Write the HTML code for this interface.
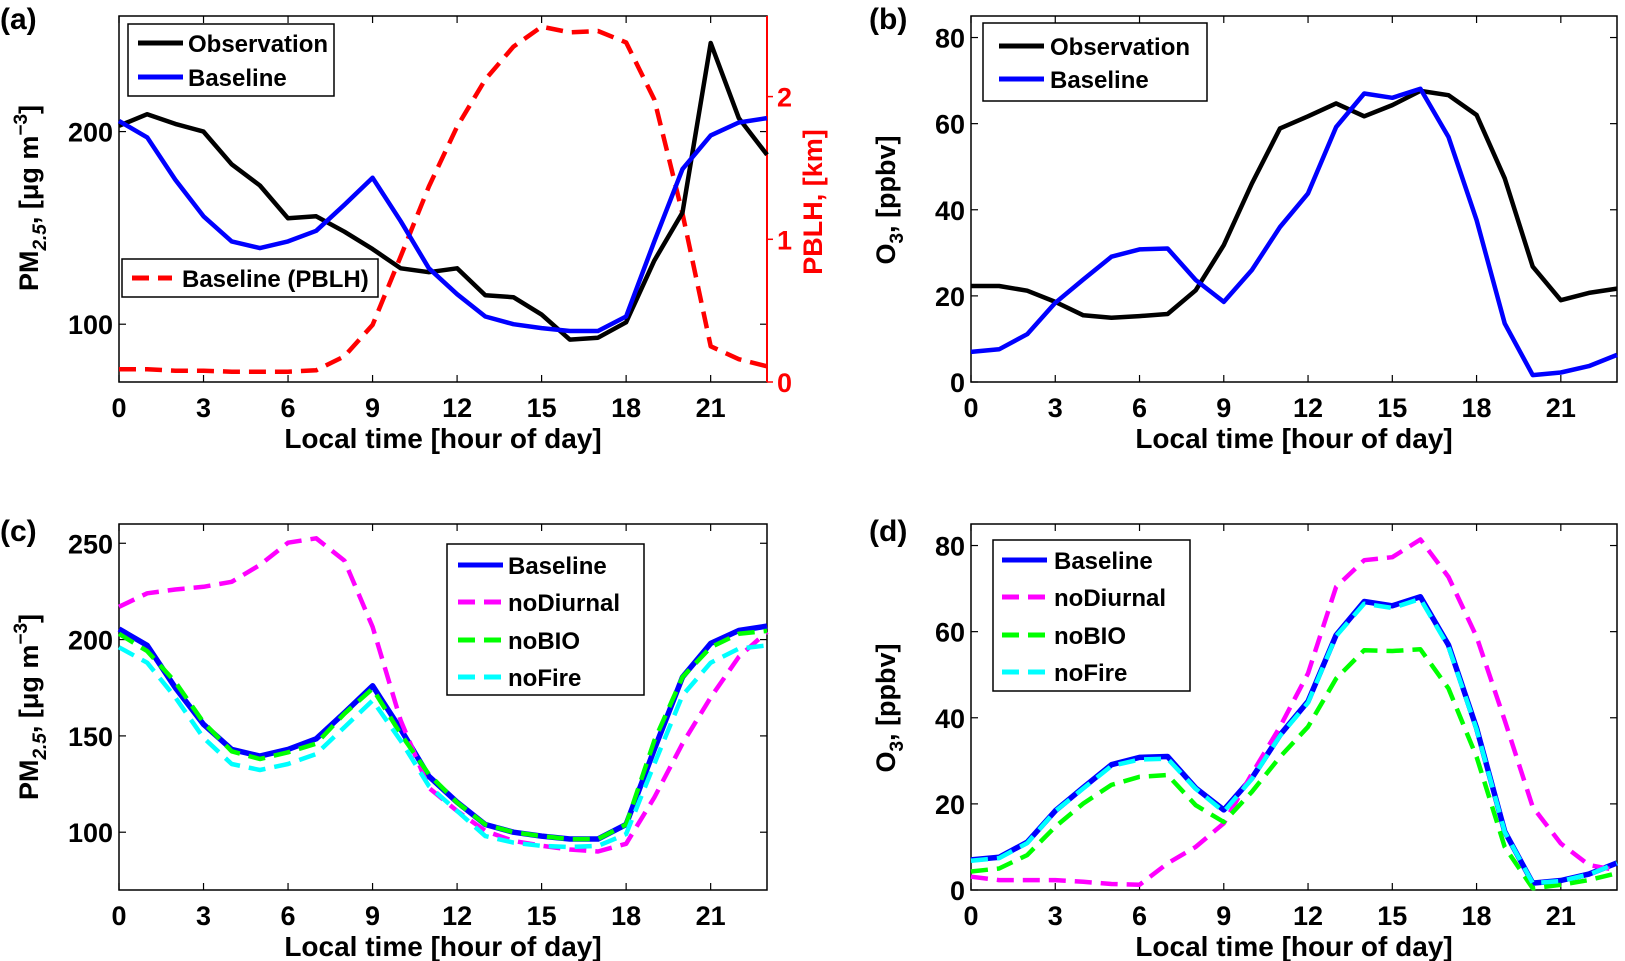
<!DOCTYPE html>
<html><head><meta charset="utf-8"><style>
html,body{margin:0;padding:0;background:#fff;}
svg{display:block;font-family:"Liberation Sans",Arial,sans-serif;font-weight:bold;}
</style></head><body>
<svg id="fig" width="1625" height="961" viewBox="0 0 1625 961" xmlns="http://www.w3.org/2000/svg"></svg>
<script>
const hours=[0,1,2,3,4,5,6,7,8,9,10,11,12,13,14,15,16,17,18,19,20,21,22,23];
const xTicks=[0,3,6,9,12,15,18,21];
const pmTicksA=[100,200];
const pmTicksC=[100,150,200,250];
const o3Ticks=[0,20,40,60,80];
const pblhTicks=[0,1,2];
const obsPM=[203,209,204,200,183,172,155,156,148,139,129,127,129,115,114,105,92,93,101,133,158,246,207,188];
const basePM=[205.5,197,175,156,143,139.5,143,148.5,162,176,153.5,129,115.6,104,100,98,96.5,96.5,104,143,180.5,198,204.7,207];
const pblh=[0.089,0.089,0.079,0.079,0.072,0.072,0.072,0.082,0.18,0.40,0.88,1.37,1.79,2.12,2.35,2.49,2.45,2.46,2.38,1.98,1.18,0.25,0.16,0.11];
const obsO3=[22.3,22.3,21.2,18.6,15.5,14.9,15.3,15.8,21.3,31.8,46.1,58.9,61.7,64.7,61.7,64.3,67.6,66.6,62,47.3,26.8,19,20.7,21.7];
const baseO3=[7.0,7.6,11.1,18.4,23.8,29.1,30.8,31.0,23.7,18.6,26,36,43.8,59.2,67,66,68.1,56.9,37.6,13.6,1.6,2.2,3.7,6.3];
const noDiurnalPM=[217,224,226,227.4,230,238.7,250.3,252.6,241,206.6,158,123,111,100.7,95.5,93,91,90,94,118,146,170,191,204];
const noBioPM=[203,194,178,157,142,138,141.5,146,161.5,174.5,151,130,115.4,104,100,98,96.4,96.5,104,147.5,180.5,196,203,204.5];
const noFirePM=[196,188,170,149,135.4,132.3,135.4,140.6,154.5,168.4,147.5,124,111,98,94.6,92.9,92.3,92.9,99,135.4,171,188,195.3,197];
const noDiurnalO3=[3.1,2.3,2.3,2.3,1.9,1.4,1.2,6.2,10,15.5,27,37.9,50.3,70.4,76.6,77.3,81.4,72.7,58.8,39.4,19.3,10.8,5.8,4.6];
const noBioO3=[4.3,5.0,8.1,14.7,20.1,24.4,26.3,26.7,19.7,15.8,22.8,30.9,37.9,49.1,55.7,55.5,55.9,46.8,30.9,10,0.4,1.2,2.3,3.9];
const noFireO3=[6.8,7.4,10.9,18.3,23.6,28.8,30.3,30.5,23.5,18.2,25.8,35.8,43.5,59,66.5,65.5,67.6,56.5,37.3,13.5,1.6,2.1,3.6,6.2];

const NS="http://www.w3.org/2000/svg";
const svg=document.getElementById('fig');
function mk(tag,attrs,parent,text){const e=document.createElementNS(NS,tag);for(const k in attrs)e.setAttribute(k,attrs[k]);if(text!==undefined)e.textContent=text;(parent||svg).appendChild(e);return e;}

function panel(p){
  const g=mk('g',{});
  
  
  const sx=v=>p.L+(v-0)/(23-0)*(p.R-p.L);
  const sy=v=>p.B-(v-p.ymin)/(p.ymax-p.ymin)*(p.B-p.T);
  const fr=mk('rect',{x:p.L,y:p.T,width:p.R-p.L,height:p.B-p.T,fill:'none',stroke:'#000','stroke-width':1.5},g);
  
  
  xTicks.forEach(t=>{
    const x=sx(t);
    mk('line',{x1:x,y1:p.B,x2:x,y2:p.B-7,stroke:'#000','stroke-width':1.2},g);
    mk('line',{x1:x,y1:p.T,x2:x,y2:p.T+7,stroke:'#000','stroke-width':1.2},g);
    const tl=mk('text',{x:x,y:p.B+35,'font-size':27,'text-anchor':'middle'},g,String(t));
    
    
  });
  p.yt.forEach(t=>{
    const y=sy(t);
    mk('line',{x1:p.L,y1:y,x2:p.L+7,y2:y,stroke:'#000','stroke-width':1.2},g);
    mk('line',{x1:p.R,y1:y,x2:p.R-7,y2:y,stroke:'#000','stroke-width':1.2},g);
    const tl=mk('text',{x:p.L-6,y:y+10,'font-size':27,'text-anchor':'end'},g,String(t));
    
    
  });
  const xl=mk('text',{x:(p.L+p.R)/2,y:p.B+66,'font-size':28,'text-anchor':'middle'},g,'Local time [hour of day]');
  
  
  const yl=mk('text',{x:0,y:0,'font-size':27,'text-anchor':'middle',transform:`translate(${p.ylx},${p.yly}) rotate(-90)`},g);
  
  
  if(p.pm){
    mk('tspan',{},yl,'PM');
    mk('tspan',{'font-size':19,dy:8,'font-style':'italic'},yl,'2.5');
    mk('tspan',{dy:-8},yl,',  [\u03BCg m');
    mk('tspan',{'font-size':19,dy:-11},yl,'\u22123');
    mk('tspan',{dy:11},yl,']');
  } else {
    mk('tspan',{},yl,'O');
    mk('tspan',{'font-size':19,dy:8},yl,'3');
    mk('tspan',{dy:-8},yl,',  [ppbv]');
  }
  const lab=mk('text',{x:p.labx,y:p.laby,'font-size':30},g,'('+p.id+')');
  
  
  return {g,sx,sy};
}
function series(ax,vals,sy,color,dash,name,width){
  const pts=hours.map((h,i)=>ax.sx(h).toFixed(1)+','+sy(vals[i]).toFixed(1)).join(' ');
  const a={points:pts,fill:'none',stroke:color,'stroke-width':width||4.5,'stroke-linejoin':'round'};
  if(dash)a['stroke-dasharray']='17,9';
  const l=mk('polyline',a,ax.g);
  
  
}
function legend(ax,box,entries){
  const lg=mk('g',{},ax.g);
  
  
  mk('rect',{x:box[0],y:box[1],width:box[2]-box[0],height:box[3]-box[1],fill:'#fff',stroke:'#000','stroke-width':1.5},lg);
  entries.forEach(e=>{
    const it=mk('g',{},lg);
    
    
    const a={x1:e.x1,y1:e.y,x2:e.x2,y2:e.y,stroke:e.c,'stroke-width':e.w||5};
    if(e.d)a['stroke-dasharray']='17,9';
    mk('line',a,it);
    mk('text',{x:e.tx,y:e.y+9,'font-size':24},it,e.t);
  });
}

// (a)
const A=panel({id:'a',L:119,R:767,T:16,B:382,ymin:70,ymax:260,yt:pmTicksA,pm:true,ylx:38,yly:198,labx:0,laby:29});
const syPB=v=>382-v*142.7;
pblhTicks.forEach(t=>{
  const y=syPB(t);
  mk('line',{x1:767,y1:y,x2:773,y2:y,stroke:'#f00','stroke-width':1.5},A.g);
  const tl=mk('text',{x:777,y:y+10,'font-size':27,fill:'#f00'},A.g,String(t));
  
  
});
mk('line',{x1:767,y1:16,x2:767,y2:382,stroke:'#f00','stroke-width':2},A.g);
const ry=mk('text',{x:0,y:0,'font-size':27,fill:'#f00','text-anchor':'middle',transform:'translate(822,202) rotate(-90)'},A.g,'PBLH, [km]');


series(A,pblh,syPB,'#f00',true,'pblh-line');
series(A,obsPM,A.sy,'#000',false,'observation-line');
series(A,basePM,A.sy,'#00f',false,'baseline-line');
legend(A,[128,24,334,96],[{x1:138,x2:183,y:43,c:'#000',t:'Observation',tx:188},{x1:138,x2:183,y:77,c:'#00f',t:'Baseline',tx:188}]);
legend(A,[122,259,378,297],[{x1:132,x2:172,y:278,c:'#f00',d:true,t:'Baseline (PBLH)',tx:182}]);

// (b)
const B=panel({id:'b',L:971,R:1617,T:16,B:382,ymin:0,ymax:85,yt:o3Ticks,pm:false,ylx:895,yly:200,labx:869,laby:29});
series(B,obsO3,B.sy,'#000',false,'observation-line');
series(B,baseO3,B.sy,'#00f',false,'baseline-line');
legend(B,[983,23,1207,101],[{x1:999,x2:1044,y:46,c:'#000',t:'Observation',tx:1050},{x1:999,x2:1044,y:79,c:'#00f',t:'Baseline',tx:1050}]);

// (c)
const C=panel({id:'c',L:119,R:767,T:524,B:890,ymin:70,ymax:260,yt:pmTicksC,pm:true,ylx:38,yly:707,labx:0,laby:541});
series(C,basePM,C.sy,'#00f',false,'baseline-line',5.5);
series(C,noDiurnalPM,C.sy,'#f0f',true,'nodiurnal-line');
series(C,noBioPM,C.sy,'#0f0',true,'nobio-line');
series(C,noFirePM,C.sy,'#0ff',true,'nofire-line');
legend(C,[447,544,644,695],[
 {x1:458,x2:503,y:565,c:'#00f',t:'Baseline',tx:508},
 {x1:458,x2:503,y:602,c:'#f0f',d:true,t:'noDiurnal',tx:508},
 {x1:458,x2:503,y:640,c:'#0f0',d:true,t:'noBIO',tx:508},
 {x1:458,x2:503,y:677,c:'#0ff',d:true,t:'noFire',tx:508}]);

// (d)
const D=panel({id:'d',L:971,R:1617,T:524,B:890,ymin:0,ymax:85,yt:o3Ticks,pm:false,ylx:895,yly:708,labx:869,laby:541});
series(D,baseO3,D.sy,'#00f',false,'baseline-line',5.5);
series(D,noDiurnalO3,D.sy,'#f0f',true,'nodiurnal-line');
series(D,noBioO3,D.sy,'#0f0',true,'nobio-line');
series(D,noFireO3,D.sy,'#0ff',true,'nofire-line');
legend(D,[993,540,1190,691],[
 {x1:1002,x2:1047,y:560,c:'#00f',t:'Baseline',tx:1054},
 {x1:1002,x2:1047,y:597,c:'#f0f',d:true,t:'noDiurnal',tx:1054},
 {x1:1002,x2:1047,y:635,c:'#0f0',d:true,t:'noBIO',tx:1054},
 {x1:1002,x2:1047,y:672,c:'#0ff',d:true,t:'noFire',tx:1054}]);
</script>
</body></html>
